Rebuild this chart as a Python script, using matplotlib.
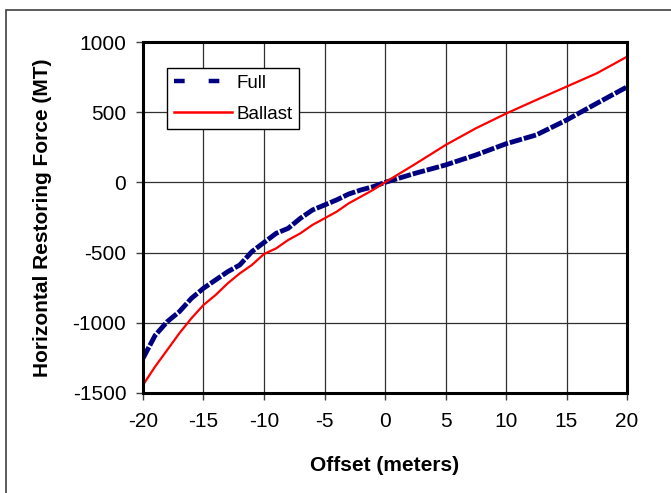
import matplotlib.pyplot as plt
from matplotlib.lines import Line2D
from matplotlib.patches import Rectangle

plt.rcParams['font.family'] = ['Liberation Sans', 'DejaVu Sans']
plt.rcParams['axes.unicode_minus'] = False

full_x = [-20, -19, -18, -17, -16, -15, -14, -13, -12, -11, -10, -9, -8, -7, -6,
          -5, -4, -3, -2, -1, 0, 2.5, 5, 7.5, 10, 12.5, 15, 17.5, 20]
full_y = [-1253, -1090, -992, -921, -826, -754, -695, -636, -588, -493, -428, -363,
          -327, -256, -197, -161, -125, -83, -54, -31, 0, 65, 124, 195, 275, 338,
          444, 563, 680]

ballast_x = [-20, -19, -18, -17, -16, -15, -14, -13, -12, -11, -10, -9, -8, -7, -6,
             -5, -4, -3, -2, -1, 0, 2.5, 5, 7.5, 10, 12.5, 15, 17.5, 20]
ballast_y = [-1443, -1312, -1194, -1075, -968, -873, -802, -719, -648, -588, -510,
             -470, -410, -363, -303, -256, -209, -149, -102, -54, 0, 131, 266, 385,
             490, 587, 682, 777, 895]

x_ticks = [-20, -15, -10, -5, 0, 5, 10, 15, 20]
y_ticks = [-1500, -1000, -500, 0, 500, 1000]

fig = plt.figure(figsize=(6.71, 4.93), dpi=100)
ax = fig.add_axes([143 / 671, 1 - 393 / 493, 484 / 671, 351 / 493])

# outer frame of the chart area
fig.patches.append(Rectangle((6 / 671, -0.1), 1.2, 1 - 10 / 493 + 0.1,
                             transform=fig.transFigure, fill=False,
                             edgecolor='#404040', linewidth=1.2))

ax.plot(full_x, full_y, color='#000080', linewidth=3.5, linestyle=(0, (2.6, 0.4)),
        solid_capstyle='butt')
ax.plot(ballast_x, ballast_y, color='#ff0000', linewidth=1.6)

ax.set_xlim(-20, 20)
ax.set_ylim(-1500, 1000)
ax.set_xticks(x_ticks)
ax.set_yticks(y_ticks)
ax.grid(True, color='#303030', linewidth=0.9)
ax.set_axisbelow(True)

for s in ax.spines.values():
    s.set_linewidth(2.2)
    s.set_color('black')

ax.tick_params(axis='both', labelsize=15, length=5, width=1, color='#404040')
ax.tick_params(axis='x', pad=9)
ax.tick_params(axis='y', pad=7)

ax.set_xlabel('Offset (meters)', fontsize=15, fontweight='bold', labelpad=18)
ax.set_ylabel('Horizontal Restoring Force (MT)', fontsize=15, fontweight='bold',
              labelpad=15)

handles = [Line2D([], [], color='#000080', linewidth=3.2, linestyle=(0, (2.4, 5.4))),
           Line2D([], [], color='#ff0000', linewidth=1.8)]
leg = ax.legend(handles, ['Full', 'Ballast'], loc='upper left',
                bbox_to_anchor=(24 / 484, 1 - 26 / 351), fontsize=13.5,
                fancybox=False, framealpha=1, edgecolor='black',
                handlelength=3.1, handletextpad=0.25, borderpad=0.35,
                labelspacing=0.75, borderaxespad=0)
leg.get_frame().set_linewidth(1.0)

fig.savefig('out.png', dpi=100)
